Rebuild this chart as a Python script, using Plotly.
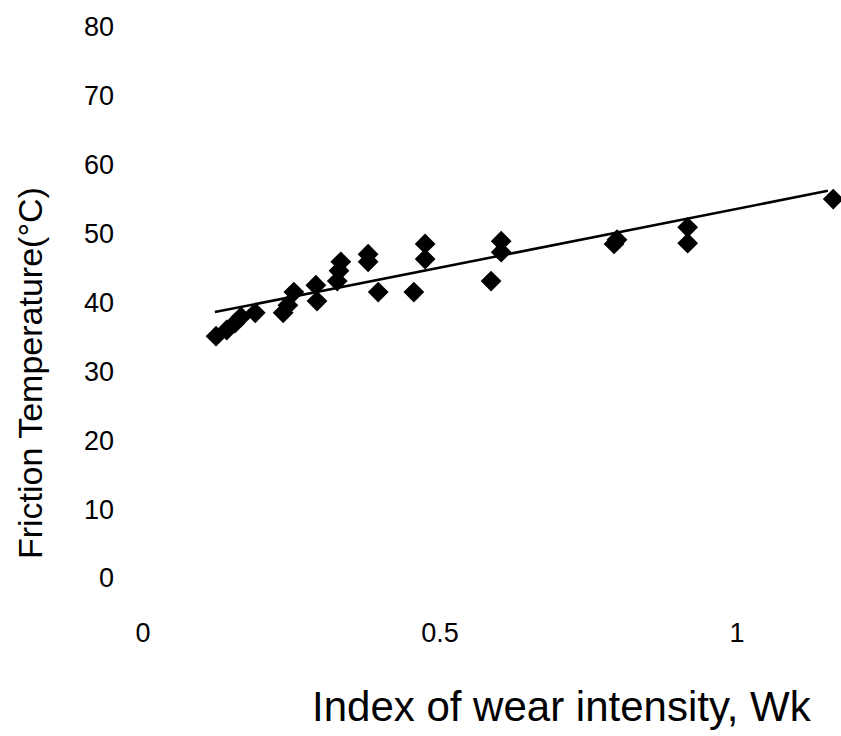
import plotly.graph_objects as go

# Measured data (Index of wear intensity Wk vs Friction temperature °C)
wk = [0.123, 0.141, 0.155, 0.165, 0.189, 0.236, 0.244, 0.254, 0.293, 0.291,
      0.327, 0.330, 0.333, 0.379, 0.379, 0.396, 0.456, 0.475, 0.475, 0.586,
      0.603, 0.603, 0.793, 0.798, 0.917, 0.917, 1.162]
temp = [35.1, 36.0, 37.0, 37.9, 38.5, 38.5, 39.6, 41.5, 40.2, 42.5,
        43.1, 44.6, 45.9, 45.9, 47.0, 41.5, 41.5, 46.3, 48.5, 43.1,
        47.3, 48.9, 48.5, 49.1, 48.6, 50.9, 55.0]

# Trend line end points
trend_x = [0.121, 1.153]
trend_y = [38.6, 56.2]

x_ticks = [0, 0.5, 1]
x_tick_text = ["0", "0.5", "1"]
y_ticks = [0, 10, 20, 30, 40, 50, 60, 70, 80]

fig = go.Figure()
fig.add_trace(go.Scatter(x=trend_x, y=trend_y, mode="lines",
                         line=dict(color="black", width=2.5), showlegend=False))
fig.add_trace(go.Scatter(x=wk, y=temp, mode="markers",
                         marker=dict(symbol="diamond", size=16, color="black"),
                         showlegend=False))

font_family = "Liberation Sans, Arial, sans-serif"
fig.update_layout(
    width=841, height=736,
    margin=dict(l=120, r=0, t=20, b=136),
    paper_bgcolor="white", plot_bgcolor="white",
    font=dict(family=font_family, color="black"),
    xaxis=dict(range=[-0.0387, 1.1751], tickvals=x_ticks, ticktext=x_tick_text,
               showgrid=False, zeroline=False, showline=False, ticks="",
               tickfont=dict(size=27), ticklabelstandoff=14),
    yaxis=dict(range=[-3.19, 81.0], tickvals=y_ticks,
               showgrid=False, zeroline=False, showline=False, ticks="",
               tickfont=dict(size=27), ticklabelstandoff=5),
    annotations=[
        dict(text="Index of wear intensity, Wk", xref="paper", yref="paper",
             x=0.613, y=-0.183, showarrow=False, font=dict(size=42),
             xanchor="center", yanchor="middle"),
        dict(text="Friction Temperature(°C)", xref="paper", yref="paper",
             x=-0.125, y=0.391, showarrow=False, font=dict(size=34),
             textangle=-90, xanchor="center", yanchor="middle"),
    ],
)

fig.write_html("out.html")
